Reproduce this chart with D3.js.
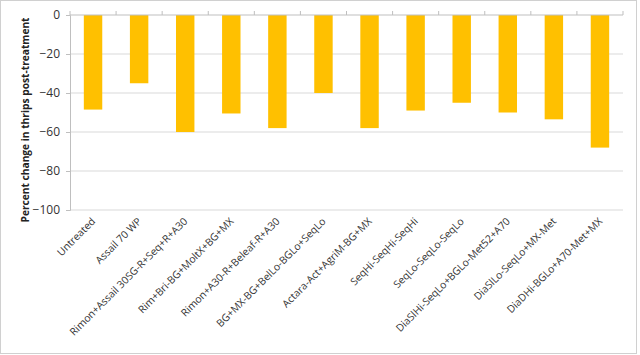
<!DOCTYPE html>
<html><head><meta charset="utf-8">
<script src="https://cdn.jsdelivr.net/npm/d3@7/dist/d3.min.js"></script>
<style>body{margin:0;background:#fff;} svg{display:block;}</style>
</head><body>
<script>
const categories = ["Untreated","Assail 70 WP","Rimon+Assail 30SG-R+Seq+R+A30","Rim+Bri-BG+MoltX+BG+MX","Rimon+A30-R+Beleaf-R+A30","BG+MX-BG+BelLo-BGLo+SeqLo","Actara-Act+AgriM-BG+MX","SeqHi-SeqHi-SeqHi","SeqLo-SeqLo-SeqLo","DiaSlHi-SeqLo+BGLo-Met52+A70","DiaSlLo-SeqLo+MX-Met","DiaDHi-BGLo+A70-Met+MX"];
const values = [-48.5, -35, -60, -50.5, -58, -40, -58, -49, -45, -50, -53.5, -68];
const yTicks = [0, -20, -40, -60, -80, -100];
const yLabel = "Percent change in thrips post-treatment";

const W = 640, H = 355;
const svg = d3.select("body").append("svg").attr("width", W).attr("height", H);
svg.append("rect").attr("x",0.5).attr("y",0.5).attr("width",636).attr("height",353)
  .attr("fill","#fff").attr("stroke","#d0d0d0");

const m = {left:70, right:623, top:15, bottom:210};
const x = d3.scaleBand().domain(categories).range([m.left, m.right]).paddingInner(0.6).paddingOuter(0.3);
const y = d3.scaleLinear().domain([-100, 0]).range([m.bottom, m.top]);

// gridlines
svg.append("g").selectAll("line").data(yTicks.filter(d=>d!==0)).join("line")
  .attr("x1", m.left).attr("x2", m.right).attr("y1", d=>y(d)).attr("y2", d=>y(d))
  .attr("stroke","#d9d9d9").attr("stroke-width",1);

// bars
svg.append("g").selectAll("rect").data(values).join("rect")
  .attr("x",(d,i)=>x(categories[i])).attr("width",x.bandwidth())
  .attr("y", y(0)).attr("height", d=>y(d)-y(0)).attr("fill","#ffc000");

// y axis
const yAxis = d3.axisLeft(y).tickValues(yTicks).tickSize(4).tickPadding(6).tickFormat(d3.format("d"));
const gy = svg.append("g").attr("transform",`translate(${m.left},0)`).call(yAxis);
gy.select(".domain").attr("stroke","#bfbfbf");
gy.selectAll(".tick line").attr("stroke","#bfbfbf");
gy.selectAll("text").attr("font-family","Open Sans, Liberation Sans, sans-serif").attr("font-size",12).attr("fill","#333");

// x axis at y=0 with ticks pointing up between categories
const xAxisLine = svg.append("g");
xAxisLine.append("line").attr("x1",m.left).attr("x2",m.right).attr("y1",y(0)).attr("y2",y(0)).attr("stroke","#bfbfbf");
const step = (m.right-m.left)/categories.length;
const bounds = d3.range(categories.length+1).map(i=>m.left+i*step);
xAxisLine.selectAll("line.t").data(bounds).join("line").attr("class","t")
  .attr("x1",d=>d).attr("x2",d=>d).attr("y1",y(0)).attr("y2",y(0)-4).attr("stroke","#bfbfbf");

// x labels
svg.append("g").selectAll("text").data(categories).join("text")
  .attr("transform", d=>`translate(${x(d)+x.bandwidth()/2+3},${m.bottom+12}) rotate(-45)`)
  .attr("text-anchor","end").attr("font-family","Open Sans, Liberation Sans, sans-serif")
  .attr("font-size",10.3).attr("fill","#333").text(d=>d);

// y label
svg.append("text").attr("transform",`translate(29,120) rotate(-90)`)
  .attr("text-anchor","middle").attr("font-family","Open Sans, Liberation Sans, sans-serif")
  .attr("font-weight","bold").attr("font-size",10.2).attr("fill","#222").text(yLabel);
</script>
</body></html>
